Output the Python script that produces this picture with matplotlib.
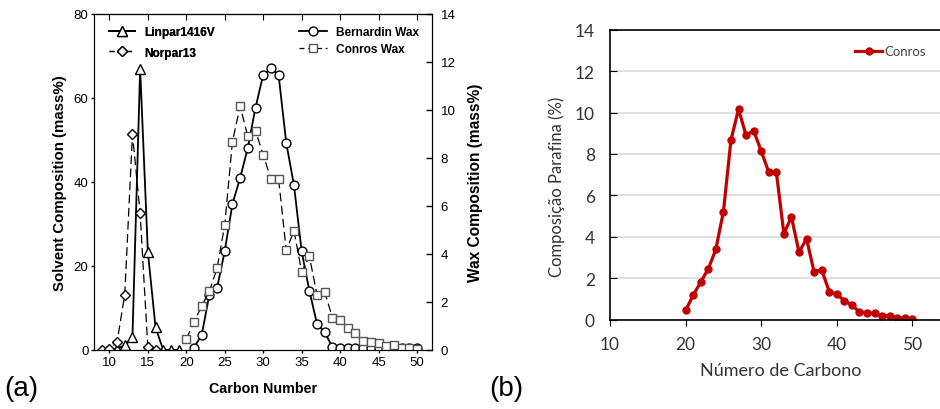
import numpy as np
import matplotlib
matplotlib.use('Agg')
from matplotlib import pyplot as plt
from matplotlib.lines import Line2D

# solvent distributions (left axis, mass%)
linpar_c = [10, 11, 12, 13, 14, 15, 16, 17, 18, 19]
linpar_y = [0.0, 0.3, 1.1, 3.1, 67.0, 23.4, 5.4, 0.0, 0.0, 0.0]
norpar_c = [9, 10, 11, 12, 13, 14, 15, 16]
norpar_y = [0.0, 0.2, 1.9, 13.2, 51.4, 32.5, 0.6, 0.0]

# wax distributions (right axis, mass%)
bern_c = list(range(21, 51))
bern_y = [0.1, 0.62, 2.3, 2.58, 4.12, 6.08, 7.17, 8.42, 10.1, 11.46, 11.74, 11.46,
          8.62, 6.87, 4.11, 2.47, 1.08, 0.74, 0.11, 0.1, 0.1, 0.1, 0.1, 0.1,
          0.1, 0.1, 0.1, 0.1, 0.1, 0.1]
conros_c = list(range(20, 51))
conros_y = [0.45, 1.18, 1.82, 2.45, 3.4, 5.22, 8.68, 10.16, 8.9, 9.13, 8.14, 7.12,
            7.13, 4.15, 4.96, 3.26, 3.9, 2.3, 2.41, 1.35, 1.23, 0.91, 0.71, 0.36,
            0.33, 0.31, 0.18, 0.19, 0.08, 0.08, 0.05]

a_xticks = [10, 15, 20, 25, 30, 35, 40, 45, 50]
a_left_ticks = [0, 20, 40, 60, 80]
a_right_ticks = [0, 2, 4, 6, 8, 10, 12, 14]
b_xticks = [10, 20, 30, 40, 50]
b_yticks = [0, 2, 4, 6, 8, 10, 12, 14]

fig = plt.figure(figsize=(9.4, 4.1), dpi=100)

# ---------- panel (a) ----------
ax1 = fig.add_axes([0.1, 0.144, 0.36, 0.8195])
ax2 = ax1.twinx()
arial = 'Liberation Sans'

mk = dict(markerfacecolor='white', markeredgecolor='black', markeredgewidth=1.0,
          color='black')
grey = dict(mk, markeredgecolor='#555555')
ax1.plot(linpar_c, linpar_y, '-', marker='^', markersize=6.5, lw=1.3, **mk)
ax1.plot(norpar_c, norpar_y, '--', marker='D', markersize=5.5, lw=0.9,
         dashes=(7, 3.5), **mk)
ax2.plot(bern_c, bern_y, '-', marker='o', markersize=6.4, lw=1.3, **mk)
ax2.plot(conros_c, conros_y, '--', marker='s', markersize=5.7, lw=0.9,
         dashes=(7, 3.5), **grey)

ax1.set_xlim(8, 52)
ax1.set_ylim(0, 80)
ax2.set_ylim(0, 14)
ax1.set_xticks(a_xticks)
ax1.set_yticks(a_left_ticks)
ax2.set_yticks(a_right_ticks)
ax1.tick_params(axis='both', direction='out', length=2, width=1, labelsize=9.5,
                pad=2)
ax2.tick_params(axis='y', direction='in', length=4, width=1, labelsize=9.5, pad=6)
for lab in ax1.get_xticklabels() + ax1.get_yticklabels() + ax2.get_yticklabels():
    lab.set_family(arial)
top = ax1.secondary_xaxis('top')
top.set_xticks(a_xticks)
top.tick_params(direction='in', length=4, labeltop=False)

ax1.set_xlabel('Carbon Number', family=arial, weight='bold', fontsize=10.3,
               labelpad=10)
ax1.set_ylabel('Solvent Composition (mass%)', family=arial, weight='bold',
               fontsize=10.8, labelpad=5)
ax2.set_ylabel('Wax Composition (mass%)', family=arial, weight='bold',
               fontsize=11.2, labelpad=9)

legprop = dict(family=arial, weight='bold', size=8.6)
h1 = [Line2D([], [], ls='-', marker='^', markersize=6.5, lw=1.3, **mk),
      Line2D([], [], ls='--', marker='D', markersize=5.5, lw=0.9, dashes=(4, 3), **mk)]
leg1 = ax1.legend(h1, ['Linpar1416V', 'Norpar13'], loc='upper left', frameon=False,
                  prop=legprop, handlelength=2.2, handletextpad=0.7,
                  bbox_to_anchor=(0.02, 0.99), borderaxespad=0.3, labelspacing=0.75)
ax1.add_artist(leg1)
h2 = [Line2D([], [], ls='-', marker='o', markersize=6.4, lw=1.3, **mk),
      Line2D([], [], ls='--', marker='s', markersize=5.7, lw=0.9, dashes=(4, 3), **grey)]
ax2.legend(h2, ['Bernardin Wax', 'Conros Wax'], loc='upper right', frameon=False,
           prop=legprop, handlelength=2.4, handletextpad=0.7,
           bbox_to_anchor=(0.985, 0.99), borderaxespad=0.3, labelspacing=0.45)

fig.text(0.004, 0.035, '(a)', fontsize=20, family=arial)

# ---------- panel (b) ----------
red = '#C00000'
calib = 'Lato'
txt = '#333333'
axb = fig.add_axes([0.649, 0.218, 0.402, 0.707])
axb.plot(conros_c, conros_y, '-', color=red, lw=2.3, marker='o', markersize=5,
         label='Conros')
axb.set_xlim(10, 60)
axb.set_ylim(0, 14)
axb.set_xticks(b_xticks)
axb.set_yticks(b_yticks)
axb.yaxis.grid(True, color='#d9d9d9', lw=1.2)
axb.set_axisbelow(True)
axb.tick_params(axis='y', direction='in', length=5, labelsize=12.5, pad=11,
                labelcolor=txt)
axb.tick_params(axis='x', direction='out', length=4, labelsize=12.5, pad=8,
                labelcolor=txt)
for lab in axb.get_xticklabels() + axb.get_yticklabels():
    lab.set_family(calib)
for s in axb.spines.values():
    s.set_linewidth(1.2)
axb.set_xlabel('Número de Carbono', family=calib, fontsize=13, color=txt)
axb.set_ylabel('Composição Parafina (%)', family=calib, fontsize=12, color=txt)
axb.xaxis.set_label_coords(0.452, -0.145)
axb.yaxis.set_label_coords(-0.118, 0.46)
axb.legend(loc='upper right', bbox_to_anchor=(0.85, 0.965), frameon=False,
           prop=dict(family=calib, size=9.5), handlelength=2.0, handletextpad=0.2,
           borderaxespad=0, labelcolor='#444444')

fig.text(0.521, 0.035, '(b)', fontsize=20, family=arial)

fig.savefig('out.png', dpi=100)
